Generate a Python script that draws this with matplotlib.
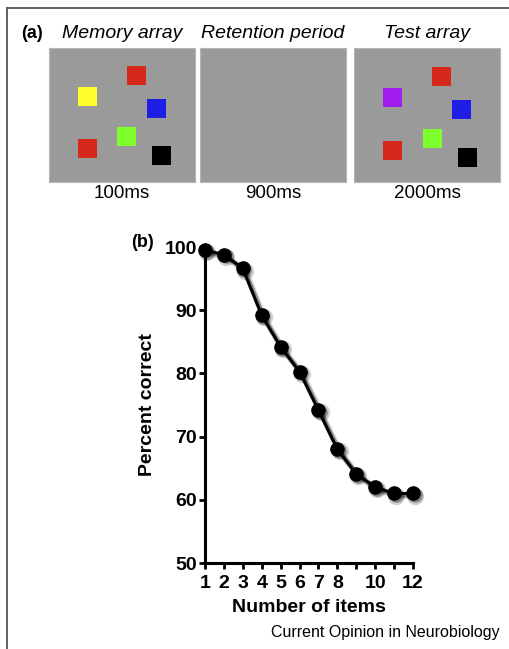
import numpy as np
import matplotlib.pyplot as plt
from matplotlib.patches import Rectangle
from matplotlib.lines import Line2D
from matplotlib.transforms import offset_copy

plt.rcParams['font.family'] = ['Liberation Sans', 'DejaVu Sans']

# panel (b) data
n_items = [1, 2, 3, 4, 5, 6, 7, 8, 9, 10, 11, 12]
pct_correct = [99.5, 98.8, 96.6, 89.2, 84.2, 80.3, 74.2, 68.0, 64.1, 62.0, 61.0, 61.0]
x_tick_labels = ['1', '2', '3', '4', '5', '6', '7', '8', '', '10', '', '12']
y_ticks = [50, 60, 70, 80, 90, 100]

# panel (a) stimulus squares: centre x, centre y (box units, y from top), colour
memory_x = [87.5, 38.5, 107.5, 78.0, 38.5, 113.0]
memory_y = [27.5, 48.0, 60.0, 88.5, 100.5, 107.5]
memory_col = ['#d7281c', '#ffff30', '#1e1ee6', '#80ff2e', '#d7281c', '#000000']
test_x = [88.0, 39.0, 107.5, 78.5, 39.0, 114.0]
test_y = [28.5, 49.5, 61.5, 90.5, 102.5, 109.5]
test_col = ['#d7281c', '#a21ef0', '#1e1ee6', '#80ff2e', '#d7281c', '#000000']
panel_titles = ['Memory array', 'Retention period', 'Test array']
panel_times = ['100ms', '900ms', '2000ms']

W, H = 510, 649
fig = plt.figure(figsize=(W / 100, H / 100), dpi=100)

# outer frame (top and left edges)
fig.add_artist(Line2D([7 / W, 1], [1 - 8 / H, 1 - 8 / H], color='#555555', lw=1.3))
fig.add_artist(Line2D([7 / W, 7 / W], [0, 1 - 8 / H], color='#555555', lw=1.3))

# panel (a)
box_w, box_h, sq = 146, 134, 19
box_left = [49, 200, 354]
box_top = 48
stims = [(memory_x, memory_y, memory_col), ([], [], []), (test_x, test_y, test_col)]
for i, left in enumerate(box_left):
    ax = fig.add_axes([left / W, 1 - (box_top + box_h) / H, box_w / W, box_h / H])
    ax.set_xlim(0, box_w)
    ax.set_ylim(box_h, 0)
    ax.set_facecolor('#9a9a9a')
    for s in ax.spines.values():
        s.set_color('#b5b5b5')
        s.set_linewidth(0.8)
    ax.set_xticks([])
    ax.set_yticks([])
    xs, ys, cs = stims[i]
    for x, y, c in zip(xs, ys, cs):
        ax.add_patch(Rectangle((x - sq / 2, y - sq / 2), sq, sq, color=c, lw=0))
    cx = (left + box_w / 2) / W
    fig.text(cx, 1 - 33 / H, panel_titles[i], ha='center', va='center',
             fontsize=14, style='italic')
    fig.text(cx, 1 - 193 / H, panel_times[i], ha='center', va='center', fontsize=13.5)

fig.text(32 / W, 1 - 33 / H, '(a)', ha='center', va='center', fontsize=13, weight='bold')

# panel (b)
ax = fig.add_axes([205 / W, 1 - 563 / H, 208 / W, 316 / H])
# soft drop shadow: two offset, semi-transparent layers under the line
for dx, alpha, lw, ms in [(1.6, 0.18, 4.6, 12.5), (1.2, 0.35, 3.2, 10.5)]:
    tr = offset_copy(ax.transData, fig=fig, x=dx, y=-dx, units='points')
    ax.plot(n_items, pct_correct, color='black', alpha=alpha, lw=lw, marker='o',
            ms=ms, mew=0, transform=tr, clip_on=False, zorder=2)
ax.plot(n_items, pct_correct, color='black', lw=2.2, marker='o', ms=9.5,
        clip_on=False, zorder=3)
ax.set_xlim(1, 12)
ax.set_ylim(50, 100)
ax.set_xticks(n_items)
ax.set_xticklabels(x_tick_labels)
ax.set_yticks(y_ticks)
for side in ['top', 'right']:
    ax.spines[side].set_visible(False)
for side in ['left', 'bottom']:
    ax.spines[side].set_linewidth(2.2)
ax.tick_params(direction='out', length=4, width=2, labelsize=14)
ax.tick_params(axis='x', pad=5)
ax.tick_params(axis='y', pad=2)
for lab in ax.get_xticklabels() + ax.get_yticklabels():
    lab.set_fontweight('bold')
ax.set_xlabel('Number of items', fontsize=14, weight='bold', labelpad=5)
ax.set_ylabel('Percent correct', fontsize=14, weight='bold', labelpad=6)

fig.text(143 / W, 1 - 243 / H, '(b)', ha='center', va='center', fontsize=13, weight='bold')
fig.text(500 / W, 1 - 633 / H, 'Current Opinion in Neurobiology', ha='right',
         va='center', fontsize=11.5)

fig.savefig('out.png', dpi=100)
